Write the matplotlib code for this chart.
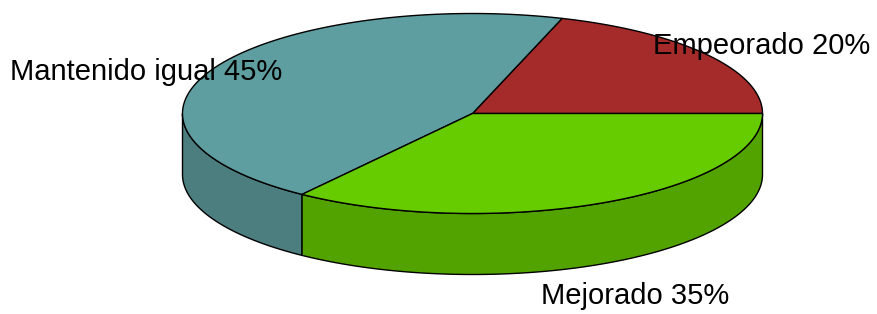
import matplotlib
matplotlib.use("Agg")
import matplotlib.pyplot as plt
from matplotlib.patches import Polygon
import numpy as np

# Data
labels = ["Empeorado", "Mantenido igual", "Mejorado"]
values = [20, 45, 35]
colors = ["#A52A2A", "#5F9EA0", "#66CC00"]
side_colors = ["#842222", "#4C7E80", "#52A300"]

# Pie geometry (pixel coordinates)
cx, cy = 472.5, 113.5
rx, ry = 290, 100
depth = 61
label_pos = [(762, 46), (146, 72), (635, 296)]

fig = plt.figure(figsize=(8.77, 3.14), dpi=100)
ax = fig.add_axes([0, 0, 1, 1])
ax.set_xlim(0, 877)
ax.set_ylim(314, 0)
ax.axis("off")

plt.rcParams["font.family"] = ["Liberation Sans", "DejaVu Sans"]

def pt(a, dy=0):
    r = np.radians(a)
    return cx + rx * np.cos(r), cy - ry * np.sin(r) + dy

# Slice angles
total = sum(values)
bounds = np.concatenate([[0], np.cumsum(values) / total * 360])

# Sides (front half: angles 180..360)
for i in range(len(values)):
    a0, a1 = max(bounds[i], 180), min(bounds[i + 1], 360)
    if a1 <= a0:
        continue
    t = np.linspace(a0, a1, 100)
    top = [pt(a) for a in t]
    bot = [pt(a, depth) for a in t[::-1]]
    ax.add_patch(Polygon(top + bot, closed=True, facecolor=side_colors[i],
                         edgecolor="black", linewidth=1.0))

# Tops
for i in range(len(values)):
    t = np.linspace(bounds[i], bounds[i + 1], 200)
    verts = [(cx, cy)] + [pt(a) for a in t]
    ax.add_patch(Polygon(verts, closed=True, facecolor=colors[i],
                         edgecolor="black", linewidth=1.0))

# Labels
for lab, v, (x, y) in zip(labels, values, label_pos):
    ax.text(x, y, f"{lab} {v}%", ha="center", va="center",
            fontsize=21, color="black")

fig.savefig("out.png", dpi=100)
